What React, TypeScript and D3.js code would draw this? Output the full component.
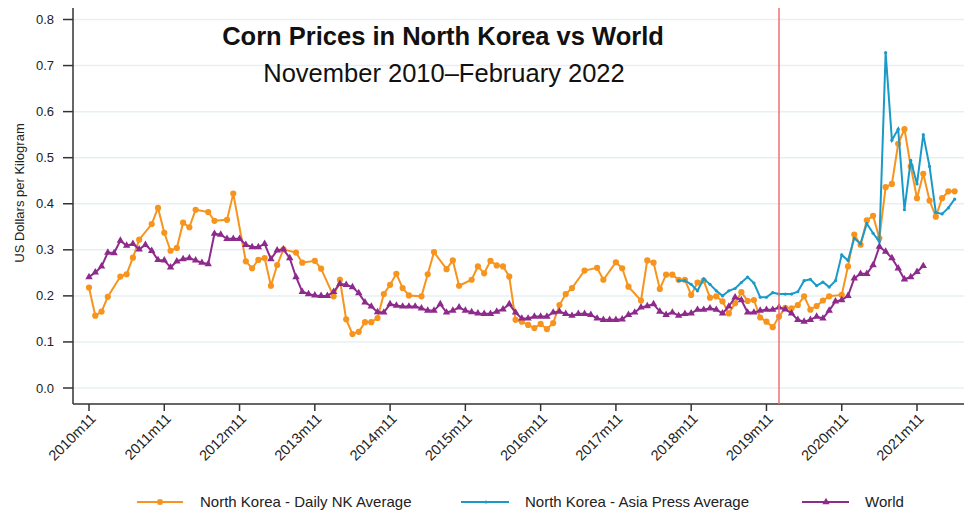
import * as d3 from 'd3';

// months counted from 2010m11 (0 = Nov 2010)
const tickLabels = ['2010m11', '2011m11', '2012m11', '2013m11', '2014m11', '2015m11', '2016m11', '2017m11', '2018m11', '2019m11', '2020m11', '2021m11'];
const tickMonths = [0, 12, 24, 36, 48, 60, 72, 84, 96, 108, 120, 132];
const yTicks = [0, 0.1, 0.2, 0.3, 0.4, 0.5, 0.6, 0.7, 0.8];
const markerMonth = 110; // 2020m1

const dailyNkMonths = [
  0, 1, 2, 3, 5, 6, 7, 8, 10, 11, 12, 13, 14, 15, 16, 17, 19, 20, 22, 23, 25, 26, 27, 28, 29, 30, 31, 33, 34, 36, 37, 39,
  40, 41, 42, 43, 44, 45, 46, 47, 48, 49, 50, 51, 53, 54, 55, 57, 58, 59, 61, 62, 63, 64, 65, 66, 67, 68, 69, 70, 71, 72,
  73, 74, 75, 76, 77, 79, 81, 82, 84, 85, 86, 88, 89, 90, 91, 92, 93, 94, 95, 96, 97, 98, 99, 100, 101, 102, 103, 104,
  105, 106, 107, 108, 109, 110, 111, 112, 113, 114, 115, 116, 117, 118, 120, 121, 122, 123, 124, 125, 126, 127, 128,
  129, 130, 131, 132, 133, 134, 135, 136, 137, 138,
];
const dailyNkValues = [
  0.218, 0.157, 0.166, 0.198, 0.242, 0.247, 0.283, 0.322, 0.356, 0.391, 0.337, 0.298, 0.304, 0.359, 0.349, 0.387, 0.382,
  0.363, 0.365, 0.422, 0.275, 0.26, 0.278, 0.282, 0.222, 0.267, 0.301, 0.294, 0.272, 0.276, 0.259, 0.199,
  0.235, 0.149, 0.117, 0.122, 0.143, 0.143, 0.152, 0.204, 0.224, 0.248, 0.217, 0.201, 0.199, 0.247, 0.295, 0.258, 0.277,
  0.222, 0.235, 0.264, 0.249, 0.276, 0.266, 0.264, 0.242, 0.148, 0.144, 0.137, 0.13, 0.139,
  0.128, 0.141, 0.18, 0.204, 0.217, 0.255, 0.261, 0.235, 0.273, 0.26, 0.22, 0.19, 0.277, 0.272, 0.215, 0.246, 0.246,
  0.235, 0.235, 0.202, 0.229, 0.233, 0.196, 0.199, 0.188, 0.162, 0.184, 0.208,
  0.189, 0.191, 0.153, 0.144, 0.132, 0.155, 0.174, 0.173, 0.18, 0.199, 0.17, 0.178, 0.19, 0.199, 0.202, 0.264, 0.333,
  0.311, 0.364, 0.374, 0.325, 0.436, 0.443,
  0.53, 0.562, 0.481, 0.412, 0.465, 0.407, 0.372, 0.412, 0.427, 0.427,
];

const asiaPressStart = 94;
const asiaPressValues = [
  0.233, 0.233, 0.225, 0.211, 0.237, 0.225, 0.211, 0.2, 0.211, 0.216, 0.229, 0.241, 0.228, 0.197, 0.197, 0.207, 0.204,
  0.204, 0.204, 0.209, 0.233, 0.236, 0.222, 0.23, 0.219, 0.233, 0.289, 0.277, 0.325, 0.313, 0.357, 0.336, 0.318, 0.728,
  0.538, 0.562, 0.387, 0.494, 0.443, 0.55, 0.481, 0.381, 0.378, 0.391, 0.41,
];

const worldValues = [
  0.241, 0.251, 0.264, 0.294, 0.293, 0.32, 0.309, 0.313, 0.301, 0.311, 0.298, 0.278, 0.277, 0.262, 0.275, 0.28, 0.282,
  0.277, 0.272, 0.269, 0.335, 0.333, 0.324, 0.324, 0.324, 0.311, 0.306, 0.306, 0.313, 0.28, 0.299, 0.301, 0.282, 0.241,
  0.209, 0.204, 0.201, 0.2, 0.2, 0.209, 0.226, 0.224, 0.219, 0.206, 0.186, 0.177, 0.165, 0.164, 0.182, 0.179, 0.177,
  0.177, 0.177, 0.173, 0.168, 0.168, 0.182, 0.164, 0.168, 0.175, 0.168, 0.165, 0.162, 0.161, 0.161, 0.166, 0.171, 0.182,
  0.164, 0.151, 0.151, 0.155, 0.155, 0.155, 0.164, 0.166, 0.161, 0.157, 0.161, 0.161, 0.159, 0.151, 0.148, 0.148, 0.148,
  0.149, 0.159, 0.164, 0.175, 0.178, 0.182, 0.166, 0.159, 0.164, 0.157, 0.161, 0.162, 0.17, 0.17, 0.173, 0.17, 0.162,
  0.177, 0.197, 0.191, 0.164, 0.164, 0.168, 0.17, 0.17, 0.175, 0.171, 0.162, 0.148, 0.144, 0.148, 0.155, 0.151, 0.168,
  0.188, 0.191, 0.2, 0.238, 0.248, 0.248, 0.267, 0.307, 0.296, 0.282, 0.26, 0.236, 0.241, 0.252, 0.265,
];

const ORANGE = '#f7941d';
const BLUE = '#1a9ac8';
const PURPLE = '#8e2a8c';
const FONT = 'Liberation Sans, Arial, sans-serif';

const W = 964;
const H = 510;
const left = 73;
const bottom = 404;

type Pt = [number, number];

export default function App() {
  const x = d3.scaleLinear().domain([0, 132]).range([89, 917]);
  const y = d3.scaleLinear().domain([0, 0.8]).range([388, 19.5]);

  const line = d3.line<Pt>().x((d) => x(d[0])).y((d) => y(d[1]));

  const daily: Pt[] = dailyNkMonths.map((m, i) => [m, dailyNkValues[i]]);
  const asia: Pt[] = asiaPressValues.map((v, i) => [asiaPressStart + i, v]);
  const world: Pt[] = worldValues.map((v, i) => [i, v]);

  const tri = d3.symbol(d3.symbolTriangle, 24)() || '';

  return (
    <svg width={W} height={H} style={{ position: 'absolute', left: 0, top: 0, background: '#fff' }} fontFamily={FONT}>
      {/* gridlines */}
      {yTicks.map((t) => (
        <line key={`g${t}`} x1={left} x2={W} y1={y(t)} y2={y(t)} stroke="#e6f0f3" strokeWidth={1.5} />
      ))}

      {/* y axis */}
      <line x1={left} x2={left} y1={8} y2={bottom} stroke="#333" strokeWidth={1.5} />
      {yTicks.map((t) => (
        <g key={`y${t}`}>
          <line x1={63} x2={left} y1={y(t)} y2={y(t)} stroke="#333" strokeWidth={1.5} />
          <text x={54} y={y(t)} dy="0.35em" textAnchor="end" fontSize={13} fill="#222">
            {d3.format('.1f')(t)}
          </text>
        </g>
      ))}
      <text transform={`translate(24,${193}) rotate(-90)`} textAnchor="middle" fontSize={13} fill="#222">
        US Dollars per Kilogram
      </text>

      {/* x axis */}
      <line x1={left} x2={W} y1={bottom} y2={bottom} stroke="#333" strokeWidth={1.5} />
      {tickMonths.map((m, i) => (
        <g key={`x${m}`}>
          <line x1={x(m)} x2={x(m)} y1={bottom} y2={411} stroke="#333" strokeWidth={1.5} />
          <text
            transform={`translate(${x(m) + 4},${416}) rotate(-45)`}
            textAnchor="end"
            dy="0.35em"
            fontSize={14.5}
            fill="#222"
          >
            {tickLabels[i]}
          </text>
        </g>
      ))}

      {/* series */}
      <path d={line(daily) || ''} fill="none" stroke={ORANGE} strokeWidth={2} />
      {daily.map((d, i) => (
        <circle key={`o${i}`} cx={x(d[0])} cy={y(d[1])} r={3.1} fill={ORANGE} />
      ))}

      <path d={line(asia) || ''} fill="none" stroke={BLUE} strokeWidth={2} />
      {asia.map((d, i) => (
        <circle key={`b${i}`} cx={x(d[0])} cy={y(d[1])} r={1.6} fill={BLUE} />
      ))}

      <path d={line(world) || ''} fill="none" stroke={PURPLE} strokeWidth={2} />
      {world.map((d, i) => (
        <path key={`w${i}`} d={tri} transform={`translate(${x(d[0])},${y(d[1])})`} fill={PURPLE} />
      ))}

      {/* reference line */}
      <line x1={x(markerMonth)} x2={x(markerMonth)} y1={8} y2={bottom} stroke="#f06f6f" strokeWidth={1.5} />

      {/* title */}
      <text x={443} y={45} textAnchor="middle" fontSize={25.5} fontWeight="bold" fill="#111">
        Corn Prices in North Korea vs World
      </text>
      <text x={444} y={82} textAnchor="middle" fontSize={25.5} fill="#111">
        November 2010–February 2022
      </text>

      {/* legend */}
      <g fontSize={15} fill="#222">
        <line x1={137} x2={183} y1={502} y2={502} stroke={ORANGE} strokeWidth={2} />
        <circle cx={160} cy={502} r={3} fill={ORANGE} />
        <text x={200} y={502} dy="0.35em">North Korea - Daily NK Average</text>

        <line x1={461} x2={509} y1={502} y2={502} stroke={BLUE} strokeWidth={2} />
        <circle cx={486} cy={502} r={1.6} fill={BLUE} />
        <text x={525} y={502} dy="0.35em">North Korea - Asia Press Average</text>

        <line x1={802} x2={849} y1={502} y2={502} stroke={PURPLE} strokeWidth={2} />
        <path d={tri} transform="translate(826,502)" fill={PURPLE} />
        <text x={865} y={502} dy="0.35em">World</text>
      </g>
    </svg>
  );
}
